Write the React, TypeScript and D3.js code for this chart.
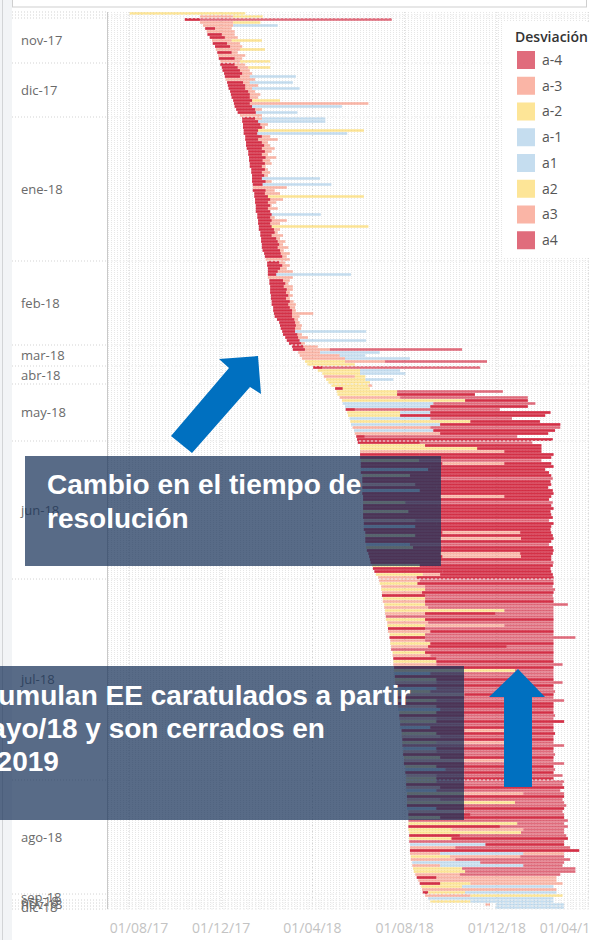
import React from "react";
import * as d3 from "d3";

// ---------- DATA ----------
// Categories of "Desviación" and their colours (drawn translucent like Tableau marks)
const CATEGORIES = ["a-4", "a-3", "a-2", "a-1", "a1", "a2", "a3", "a4"];
const CATEGORY_COLORS = ["#cb0a25", "#f7836a", "#fcd352", "#9fc6e4", "#9fc6e4", "#fcd352", "#f7836a", "#cb0a25"];
const MARK_OPACITY = 0.6;

// Day offsets are counted from this date
const BASE_DATE = new Date(2017, 7, 1);
const X_DOMAIN = [new Date(2017, 6, 3), new Date(2019, 3, 2)];
const TICK_DATES = [
  new Date(2017, 7, 1), new Date(2017, 11, 1), new Date(2018, 3, 1),
  new Date(2018, 7, 1), new Date(2018, 11, 1), new Date(2019, 3, 1),
];

// Each row (one EE): [start, end1, cat1, end2, cat2, ...] – consecutive segments in days since BASE_DATE.
// cat = index in CATEGORIES, 8 = a-4 and a4 overlapping, -1 = gap
const rowsSep17 = [[1, 154, 5]];
const rowsOct17 = [[94, 138, 6, 177, 5]];
const rowsNov17 = [
  [74, 94, 8, 348, 7], [94, 138, 6, 174, 5], [98, 138, 1, 197, 4], [101, 114, 8, 136, 1],
  [103, 140, 1], [104, 123, 8, 140, 6], [107, 127, 8, 144, 1], [110, 136, 6, 176, 5],
  [111, 130, 8, 147, 1], [114, 134, 8, 150, 6], [115, 147, 1, 180, 2], [117, 136, 8, 144, 1],
  [118, 154, 6], [119, 140, 8, 150, 1], [121, 147, 1, 187, 5],
];
const rowsDic17 = [
  [121, 140, 8, 154, 1], [123, 144, 8, 158, 1, 187, 5], [124, 147, 8, 160, 6], [126, 150, 8, 163, 1],
  [127, 147, 8, 160, 1, 221, 3], [128, 167, 6], [130, 151, 8, 160, 1, 217, 4], [131, 154, 8, 171, 1],
  [132, 154, 8, 163, 6, 226, 3], [134, 158, 8, 167, 1], [135, 160, 8, 174, 1], [136, 160, 8, 171, 6],
  [138, 163, 8, 200, 5], [139, 160, 8, 184, 1, 317, 6], [140, 163, 8, 282, 3], [142, 167, 8, 176, 1],
  [144, 168, 8, 223, 4], [147, 176, 1],
];
const rowsEne18 = [
  [150, 167, 8, 176, 1, 260, 3], [150, 171, 8, 260, 4], [151, 174, 8, 184, 1], [151, 176, 8, 180, 6],
  [152, 171, 8, 311, 2], [152, 170, 8, 289, 3], [154, 176, 8, 187, 1], [154, 171, 8, 197, 1],
  [155, 176, 8, 184, 6], [155, 179, 8, 187, 1], [156, 176, 8, 193, 1], [158, 180, 8, 189, 6],
  [158, 176, 8, 184, 1], [159, 181, 8, 195, 1], [159, 177, 8, 187, 6], [160, 180, 8, 189, 1],
  [160, 176, 8, 181, 1], [162, 180, 8, 184, 6], [162, 176, 8, 187, 1], [163, 179, 8, 184, 1],
  [163, 176, 8, 253, 3], [163, 181, 8, 189, 1], [164, 177, 8, 268, 4], [164, 209, 1],
  [164, 181, 8, 193, 6], [166, 180, 8, 200, 1], [166, 184, 8, 311, 5], [167, 187, 8, 204, 1],
  [167, 184, 8, 195, 1], [168, 187, 8, 189, 6], [168, 184, 8, 197, 1], [168, 187, 8],
  [170, 189, 8, 254, 3], [170, 187, 8, 193, 1], [171, 189, 8, 209, 1], [171, 187, 8, 200, 6],
  [172, 189, 8, 317, 2], [172, 192, 8, 200, 1], [174, 193, 8, 197, 1], [174, 189, 8, 204, 6],
  [175, 195, 8, 200, 1], [175, 197, 8, 207, 1], [176, 199, 8, 204, 1], [176, 197, 8, 211, 6],
  [177, 200, 8, 205, 1], [179, 201, 8, 213, 1], [180, 203, 8, 209, 1], [181, 213, 1],
];
const rowsFeb18 = [
  [183, 199, 8, 207, 1], [183, 203, 8, 213, 1], [184, 200, 8, 209, 6], [184, 197, 8, 217, 1],
  [184, 195, 8, 294, 3], [184, 217, 1], [186, 204, 8, 213, 6], [186, 207, 8, 211, 1],
  [187, 205, 8, 217, 1], [187, 209, 8, 217, 6], [187, 208, 8, 213, 1], [188, 211, 8, 217, 1],
  [188, 208, 8, 213, 1], [189, 213, 8, 218, 6], [189, 211, 8, 221, 1], [191, 213, 8, 220, 1],
  [191, 216, 8, 221, 6], [192, 216, 8, 244, 1], [193, 216, 8, 226, 1], [196, 219, 8, 224, 1],
  [199, 220, 8, 226, 6], [200, 221, 8, 229, 1], [201, 220, 8, 228, 1], [203, 220, 8, 314, 3],
  [204, 223, 8, 229, 1], [207, 224, 8, 237, 1], [209, 226, 8, 314, 4], [212, 228, 8, 233, 1],
];
const rowsMar18 = [
  [216, 231, 8, 250, 1], [217, 233, 8, 266, 1, 441, 7], [224, 253, 1, 332, 3], [226, 279, 6, 313, 4],
  [229, 286, 1, 372, 3], [233, 286, 5, 339, 1, 474, 7], [236, 299, 5],
];
const rowsAbr18 = [
  [244, 256, 8, 465, 7], [250, 306, 2, 359, 3], [256, 306, 5, 366, 4], [258, 299, 1, 313, 2],
  [261, 313, 2, 350, 3], [264, 319, 5],
];
const rowsMay18 = [
  [268, 317, 2, 322, 1], [273, 283, 8, 319, 5], [275, 355, 2, 495, 7], [276, 355, 5, 458, 8],
  [279, 359, 1, 528, 7], [282, 445, 2, 528, 8], [283, 403, 3, 538, 7], [286, 399, 4, 528, 8],
  [287, 299, 8, 491, 7], [289, 359, 2, 399, 3, 558, 8], [290, 359, 5, 551, 8], [292, 399, 4, 507, 7],
  [293, 452, 2, 544, 8], [294, 412, 3, 571, 8], [296, 399, 1, 571, 7], [298, 403, 4, 564, 8],
  [299, 412, 6, 555, 8], [301, 312, 8, 514, 7], [302, 561, 8],
];
const rowsJun18 = [
  [303, 385, 8, 534, 7], [306, 392, 5, 546, 8], [306, 461, 2, 546, 8], [306, 497, 1, 546, 8],
  [306, 385, 8, 562, 8], [306, 559, 8], [307, 384, 5, 546, 7], [307, 415, 8, 497, 6, 559, 8],
  [307, 399, 8, 562, 8], [307, 396, 3, 551, 8], [307, 556, 8], [309, 372, 2, 559, 8],
  [309, 412, 8, 561, 7], [309, 558, 8], [309, 379, 1, 559, 8], [309, 407, 8, 555, 8],
  [309, 385, 4, 561, 8], [309, 562, 8], [310, 412, 8, 497, 1, 559, 8], [310, 556, 8],
  [310, 366, 5, 561, 7], [310, 410, 8, 559, 8], [310, 562, 8], [310, 370, 2, 558, 8],
  [310, 412, 8, 559, 8], [310, 561, 8], [311, 379, 6, 556, 7], [311, 407, 8, 562, 8],
  [311, 379, 3, 559, 8], [311, 558, 8], [313, 415, 8, 518, 1, 559, 8], [313, 379, 2, 561, 8],
  [313, 412, 8, 519, 6, 562, 8], [313, 559, 8], [314, 372, 4, 556, 7], [314, 376, 5, 415, 8, 561, 8],
  [315, 562, 8], [317, 412, 8, 518, 1, 561, 8], [318, 415, 8, 519, 6, 559, 8], [319, 559, 8],
  [320, 412, 8, 562, 7], [322, 385, 2, 561, 8], [323, 558, 8], [325, 415, 8, 559, 8],
  [327, 389, 5, 412, 1, 561, 8], [330, 381, 6, 562, 8],
];
const rowsJul18 = [
  [331, 385, 6, 562, 7], [332, 382, 5, 562, 8], [334, 392, 1, 561, 7], [334, 392, 2, 564, 7],
  [335, 388, 6, 562, 8], [335, 392, 8, 561, 7], [336, 392, 5, 562, 7], [336, 392, 1, 562, 8],
  [338, 392, 2, 581, 7], [338, 396, 6, 562, 7], [339, 497, 5, 562, 7], [339, 392, 1, 485, 8, 562, 7],
  [340, 562, 7], [340, 392, 5, 562, 8], [342, 396, 1, 562, 7], [342, 392, 2, 497, 6, 562, 7],
  [343, 392, 8, 562, 7], [343, 399, 6, 562, 8], [345, 392, 5, 562, 7], [345, 392, 8, 591, 7],
  [346, 392, 1, 562, 7], [346, 399, 2, 562, 8], [347, 396, 6, 500, 8, 562, 7], [347, 562, 7],
  [349, 392, 5, 562, 8], [349, 399, 1, 562, 7], [350, 407, 8, 562, 7], [350, 407, 2, 562, 8],
  [350, 407, 6, 574, 7], [351, 562, 8], [351, 511, 5, 562, 7], [351, 399, 3, 562, 7],
  [352, 444, 8, 562, 7], [352, 407, 2, 562, 8], [352, 407, 1, 574, 7], [354, 444, 8, 562, 8],
  [354, 407, 4, 562, 7], [354, 399, 5, 564, 7], [355, 444, 6, 562, 8], [355, 444, 8, 562, 7],
  [355, 407, 2, 576, 7], [356, 562, 8], [356, 407, 1, 562, 8], [356, 412, 3, 562, 7],
  [358, 407, 5, 562, 8], [358, 444, 8, 564, 7], [358, 407, 6, 562, 7], [359, 407, 2, 576, 8],
  [359, 562, 7], [359, 399, 4, 562, 8], [361, 444, 8, 511, 1, 562, 7], [361, 407, 5, 564, 8],
  [361, 412, 1, 562, 7], [362, 444, 8, 562, 8], [362, 407, 2, 518, 6, 562, 7], [362, 576, 7],
  [363, 407, 3, 562, 8], [363, 407, 6, 562, 7], [363, 444, 8, 564, 7], [364, 412, 5, 562, 8],
  [364, 444, 1, 518, 6, 562, 7], [364, 444, 8, 576, 7], [366, 407, 2, 562, 8], [366, 419, 4, 564, 7],
  [366, 444, 8, 562, 8], [367, 407, 6, 574, 7], [367, 407, 5, 562, 8],
];
const rowsAgo18 = [
  [367, 407, 5, 576, 7], [367, 444, 8, 574, 7], [367, 412, 1, 576, 8], [367, 407, 3, 571, 7],
  [368, 444, 2, 522, 6, 576, 7], [368, 444, 8, 576, 8], [368, 412, 6, 574, 7], [368, 511, 5, 576, 7],
  [368, 444, 8, 579, 7], [368, 407, 4, 576, 8], [370, 444, 1, 574, 7], [370, 452, 8, 576, 7],
  [370, 412, 2, 576, 8], [370, 581, 7], [370, 514, 2, 576, 7], [370, 491, 8, 581, 7],
  [370, 427, 5, 522, 6, 576, 7], [371, 519, 2, 576, 7], [371, 438, 8, 579, 7], [371, 427, 5, 581, 8],
  [371, 576, 7], [372, 472, 3, 576, 8], [372, 432, 1, 584, 7], [372, 596, 8],
  [372, 412, 6, 522, 4, 576, 6], [373, 425, 2, 518, 1, 576, 7], [373, 432, 6, 584, 7], [375, 465, 4, 576, 7],
  [375, 412, 1, 522, 3, 574, 7], [376, 441, 5, 591, 7], [377, 445, 2, 591, 7], [379, 438, 6, 571, 7],
  [381, 407, 8, 566, 1], [383, 445, 6, 566, 1], [385, 412, 8, 452, 2, 574, 6], [387, 441, 5, 562, 3],
  [388, 445, 1, 566, 6], [389, 396, 8, 445, 2, 566, 4],
];
const rowsSep18 = [[392, 452, 6, 574, 5], [396, 562, 3]];
const rowsOct18 = [[399, 452, 2, 562, 4]];
const rowsNov18 = [[472, 478, 6, 486, -1, 576, 3]];
const rowsDic18 = [[485, 576, 4]];

const MONTH_LABELS = ["sep-17", "oct-17", "nov-17", "dic-17", "ene-18", "feb-18", "mar-18", "abr-18",
  "may-18", "jun-18", "jul-18", "ago-18", "sep-18", "oct-18", "nov-18", "dic-18"];
const MONTH_ROWS = [rowsSep17, rowsOct17, rowsNov17, rowsDic17, rowsEne18, rowsFeb18, rowsMar18, rowsAbr18,
  rowsMay18, rowsJun18, rowsJul18, rowsAgo18, rowsSep18, rowsOct18, rowsNov18, rowsDic18];
const FIRST_LABELLED_MONTH = 2;

const ANNOTATION_1 = ["Cambio en el tiempo de", "resolución"];
const ANNOTATION_2 = ["Se acumulan EE caratulados a partir", "de mayo/18 y son cerrados en", "en el 2019"];

// ---------- CHART ----------
const W = 589;
const H = 940;
const HEADER_L = 12;
const PANE_L = 107;
const TOP = 12;
const ROW_STEP = 3;
const FONT = "'Open Sans', 'Noto Sans', sans-serif";

const fmt = d3.timeFormat("%d/%m/%y");
const day = (d: number) => d3.timeDay.offset(BASE_DATE, d);

export default function App() {
  const allRows = MONTH_ROWS.flat();
  const N = allRows.length;
  const x = d3.scaleTime().domain(X_DOMAIN).range([PANE_L, W]);
  const y = d3.scaleBand<number>().domain(d3.range(N)).range([TOP, TOP + ROW_STEP * N]).paddingInner(0.15).paddingOuter(0.07);
  const bottom = TOP + ROW_STEP * N;
  const step = y.step();

  // month bands
  const bands: { label: string; y0: number; y1: number; idx: number }[] = [];
  let acc = 0;
  MONTH_ROWS.forEach((rows, k) => {
    bands.push({ label: MONTH_LABELS[k], y0: TOP + acc * step, y1: TOP + (acc + rows.length) * step, idx: k });
    acc += rows.length;
  });

  const bars: JSX.Element[] = [];
  allRows.forEach((row, i) => {
    let s = row[0];
    for (let k = 1; k < row.length; k += 2) {
      const e = row[k];
      const c = row[k + 1];
      if (c >= 0) {
        const cats = c === 8 ? [0, 7] : [c];
        cats.forEach((ci, j) => {
          const x0 = x(day(s));
          bars.push(
            <rect key={`${i}-${k}-${j}`} x={x0} y={y(i)} width={Math.max(0.5, x(day(e)) - x0)}
              height={y.bandwidth()} fill={CATEGORY_COLORS[ci]} fillOpacity={MARK_OPACITY} />
          );
        });
      }
      s = e;
    }
  });

  const legendY0 = 60;
  const legendStep = 25.75;

  return (
    <svg width={W} height={H} style={{ position: "absolute", left: 0, top: 0, background: "#fff" }}
      xmlns="http://www.w3.org/2000/svg">
      <defs>
        <pattern id="vgrid" width="3" height="2" patternUnits="userSpaceOnUse">
          <rect x="0" y="0" width="1" height="1" fill="#e6e6e6" />
        </pattern>
        <clipPath id="paneClip"><rect x={PANE_L} y={0} width={W - PANE_L} height={H} /></clipPath>
      </defs>
      <rect x={0} y={0} width={W} height={H} fill="#fff" />

      {/* left strip */}
      <rect x={0} y={0} width={HEADER_L} height={H} fill="#f2f4f6" />
      <line x1={2.5} x2={2.5} y1={0} y2={H} stroke="#d2d4d6" />

      {/* title box (cut off) */}
      <rect x={HEADER_L + 0.5} y={-6} width={574} height={13} fill="#fff" stroke="#cfcfcf" />

      {/* pane background */}
      <rect x={PANE_L + 1} y={TOP} width={W - PANE_L} height={bottom - TOP} fill="url(#vgrid)" />
      {TICK_DATES.map((t, k) => (
        <line key={k} x1={x(t)} x2={x(t)} y1={TOP} y2={bottom} stroke="#d6d6d6" strokeDasharray="1 2" />
      ))}

      {/* bars */}
      <g clipPath="url(#paneClip)">{bars}</g>

      {/* month separators */}
      {bands.map((b, k) => (
        <g key={k}>
          <line x1={HEADER_L} x2={PANE_L} y1={b.y1} y2={b.y1} stroke="#d3d3d3" strokeDasharray="1 2" />
          <line x1={PANE_L} x2={W} y1={b.y1} y2={b.y1} stroke="#eeeeee" strokeDasharray="2 2" />
        </g>
      ))}
      <line x1={HEADER_L} x2={PANE_L} y1={TOP} y2={TOP} stroke="#d3d3d3" strokeDasharray="1 2" />

      {/* header labels */}
      {bands.filter((b) => b.idx >= FIRST_LABELLED_MONTH).map((b, k) => (
        <text key={k} x={21} y={(b.y0 + b.y1) / 2} dy="0.35em" fontFamily={FONT} fontSize={13} fill="#6a6a6a">
          {b.label}
        </text>
      ))}
      <line x1={PANE_L + 0.5} x2={PANE_L + 0.5} y1={TOP} y2={bottom} stroke="#c9c9c9" />

      {/* x axis labels */}
      {TICK_DATES.map((t, k) => (
        <text key={k} x={Math.min(Math.max(x(t), PANE_L + 32), 569)} y={933} textAnchor="middle"
          fontFamily={FONT} fontSize={14} fill="#c3c3c3">{fmt(t)}</text>
      ))}

      {/* legend */}
      <rect x={502} y={22} width={W - 502} height={236} fill="#fff" />
      <text x={515} y={42} fontFamily={FONT} fontSize={14} fontWeight={600} fill="#333">Desviación</text>
      {CATEGORIES.map((c, k) => (
        <g key={c}>
          <rect x={517} y={legendY0 + k * legendStep - 9} width={18} height={18}
            fill={CATEGORY_COLORS[k]} fillOpacity={MARK_OPACITY} />
          <text x={542} y={legendY0 + k * legendStep} dy="0.35em" fontFamily={FONT} fontSize={14} fill="#555">{c}</text>
        </g>
      ))}

      {/* annotation 1 */}
      <rect x={25} y={456} width={416} height={110} fill="rgb(26,52,91)" fillOpacity={0.73} />
      <text fontFamily="'Liberation Sans', Arial, sans-serif" fontWeight={700} fontSize={28} fill="#fff">
        {ANNOTATION_1.map((l, k) => (
          <tspan key={k} x={47} y={494 + k * 34}>{l}</tspan>
        ))}
      </text>
      <polygon points="258,356 261,394 250,387 192,453 171,436 229,368 219,359" fill="#0070c0" />

      {/* annotation 2 */}
      <rect x={-100} y={666} width={564} height={154} fill="rgb(26,52,91)" fillOpacity={0.73} />
      <text fontFamily="'Liberation Sans', Arial, sans-serif" fontWeight={700} fontSize={28} fill="#fff">
        {ANNOTATION_2.map((l, k) => (
          <tspan key={k} x={-75} y={705 + k * 33}>{l}</tspan>
        ))}
      </text>
      <polygon points="518,669 545,697 532,697 532,787 504,787 504,697 489,697" fill="#0070c0" />
    </svg>
  );
}
